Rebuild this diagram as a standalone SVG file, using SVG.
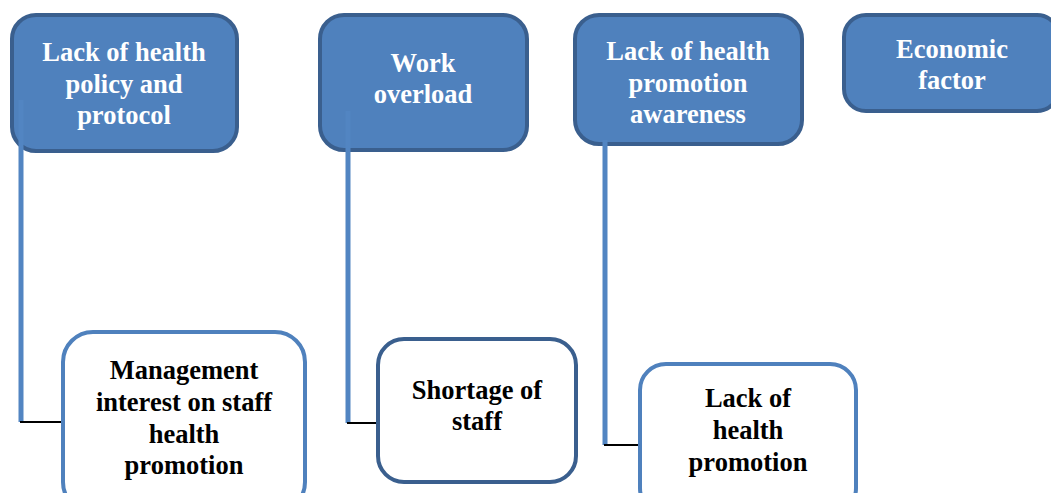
<svg xmlns="http://www.w3.org/2000/svg" width="1051" height="493" viewBox="0 0 1051 493">
  <style>
    .top rect { fill: #4F81BD; stroke: #3A5F8E; stroke-width: 4; }
    .top text { fill: #ffffff; }
    .bot rect { fill: #ffffff; stroke-width: 4; }
    .light rect { stroke: #4F81BD; }
    .dark rect { stroke: #3A5F8E; }
    text { font-family: "Liberation Serif", "Times New Roman", serif; font-weight: bold; font-size: 26.5px; text-anchor: middle; }
    .bot text { fill: #000000; }
    .vline { stroke: #5285C2; stroke-width: 5; fill: none; }
    .hline { stroke: #000000; stroke-width: 2; fill: none; }
  </style>

  <!-- top row: causes -->
  <g id="policy" class="top">
    <rect x="12" y="15" width="225" height="136" rx="24"/>
    <text x="124" y="61">Lack of health</text>
    <text x="124" y="93">policy and</text>
    <text x="124" y="124">protocol</text>
  </g>
  <g id="overload" class="top">
    <rect x="320" y="15" width="207" height="135" rx="24"/>
    <text x="423" y="72">Work</text>
    <text x="423" y="103">overload</text>
  </g>
  <g id="awareness" class="top">
    <rect x="575" y="15" width="227" height="129" rx="24"/>
    <text x="688" y="60">Lack of health</text>
    <text x="688" y="92">promotion</text>
    <text x="688" y="123">awareness</text>
  </g>
  <g id="economic" class="top">
    <rect x="844" y="15" width="215" height="96" rx="22"/>
    <text x="952" y="58">Economic</text>
    <text x="952" y="89">factor</text>
  </g>

  <!-- connectors -->
  <g id="connectors">
    <path class="vline" d="M21 100 V422"/>
    <path class="hline" d="M20 422 H62"/>
    <path class="vline" d="M348 111 V423"/>
    <path class="hline" d="M347 423 H378"/>
    <path class="vline" d="M605 140 V445"/>
    <path class="hline" d="M604 445 H639"/>
  </g>

  <!-- bottom row: effects -->
  <g id="management" class="bot light">
    <rect x="63" y="332" width="242" height="180" rx="30"/>
    <text x="184" y="379">Management</text>
    <text x="184" y="411">interest on staff</text>
    <text x="184" y="443">health</text>
    <text x="184" y="474">promotion</text>
  </g>
  <g id="shortage" class="bot dark">
    <rect x="378" y="339" width="198" height="143" rx="26"/>
    <text x="477" y="399">Shortage of</text>
    <text x="477" y="430">staff</text>
  </g>
  <g id="promotion" class="bot light">
    <rect x="640" y="364" width="216" height="150" rx="26"/>
    <text x="748" y="407">Lack of</text>
    <text x="748" y="439">health</text>
    <text x="748" y="471">promotion</text>
  </g>
</svg>
